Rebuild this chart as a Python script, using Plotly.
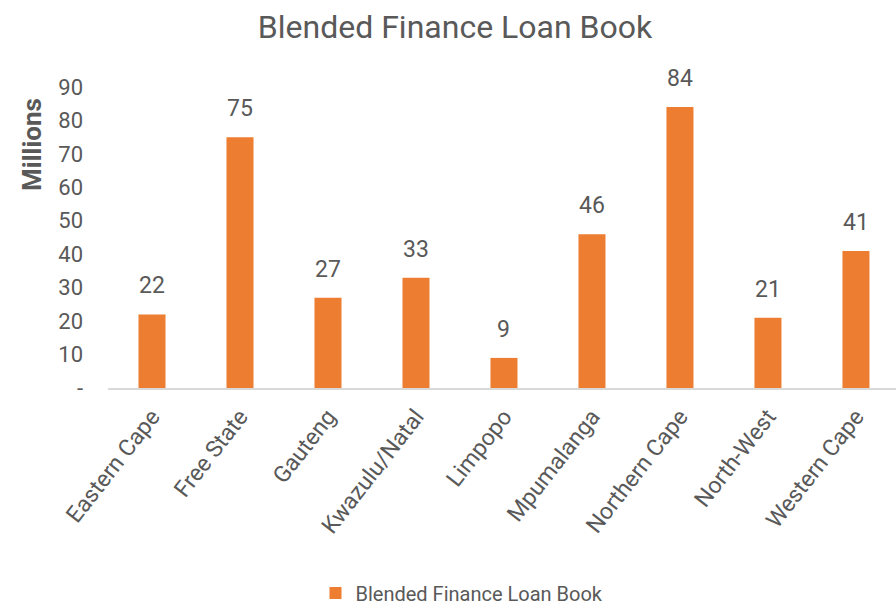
import plotly.graph_objects as go

# Loan book by province (R millions)
provinces = ["Eastern Cape", "Free State", "Gauteng", "Kwazulu/Natal", "Limpopo",
             "Mpumalanga", "Northern Cape", "North-West", "Western Cape"]
loan_book = [22, 75, 27, 33, 9, 46, 84, 21, 41]

y_ticks = [0, 10, 20, 30, 40, 50, 60, 70, 80, 90]
y_tick_text = ["-", "10", "20", "30", "40", "50", "60", "70", "80", "90"]

series_name = "Blended Finance Loan Book"
chart_title = "Blended Finance Loan Book"
y_title = "Millions"

FONT = "Roboto, Open Sans, sans-serif"
GREY = "#595959"
ORANGE = "#ED7D31"

fig = go.Figure()
fig.add_trace(go.Bar(
    x=provinces,
    y=loan_book,
    name=series_name,
    marker=dict(color=ORANGE, line=dict(width=0)),
    showlegend=True,
))

# value labels above each bar
for p, v in zip(provinces, loan_book):
    fig.add_annotation(
        x=p, y=v, xref="x", yref="y",
        text=str(v), showarrow=False,
        yanchor="bottom", yshift=13,
        font=dict(family=FONT, size=23, color=GREY),
    )

# vertical axis title placed near the top of the axis
fig.add_annotation(
    xref="paper", yref="paper",
    x=(32 - 108) / 788, y=(388 - 145) / 301,
    text=y_title, textangle=-90, showarrow=False,
    xanchor="center", yanchor="middle",
    font=dict(family=FONT, size=26, color=GREY, weight="bold"),
)

fig.update_layout(
    width=896, height=607,
    margin=dict(l=108, r=0, t=87, b=219),
    paper_bgcolor="white", plot_bgcolor="white",
    title=dict(
        text=chart_title,
        x=455 / 896, xref="container", xanchor="center",
        y=1 - 27 / 607, yref="container", yanchor="middle",
        font=dict(family=FONT, size=32, color=GREY),
    ),
    bargap=0.693,
    legend=dict(
        orientation="h",
        xref="container", yref="container",
        x=462 / 896, xanchor="center",
        y=1 - 593 / 607, yanchor="middle",
        font=dict(family=FONT, size=20, color=GREY),
        itemwidth=30,
    ),
    xaxis=dict(
        range=[-0.5, 8.455],
        tickangle=-52,
        tickfont=dict(family=FONT, size=23, color=GREY),
        showline=True, linecolor="#D9D9D9", linewidth=2,
        showgrid=False, ticks="", ticklabelstandoff=4,
        fixedrange=True,
    ),
    yaxis=dict(
        range=[0, 90],
        tickvals=y_ticks, ticktext=y_tick_text,
        tickfont=dict(family=FONT, size=22, color=GREY),
        showgrid=False, zeroline=False, showline=False,
        ticks="", ticklabelstandoff=24,
        fixedrange=True,
    ),
)

fig.write_html("out.html")
